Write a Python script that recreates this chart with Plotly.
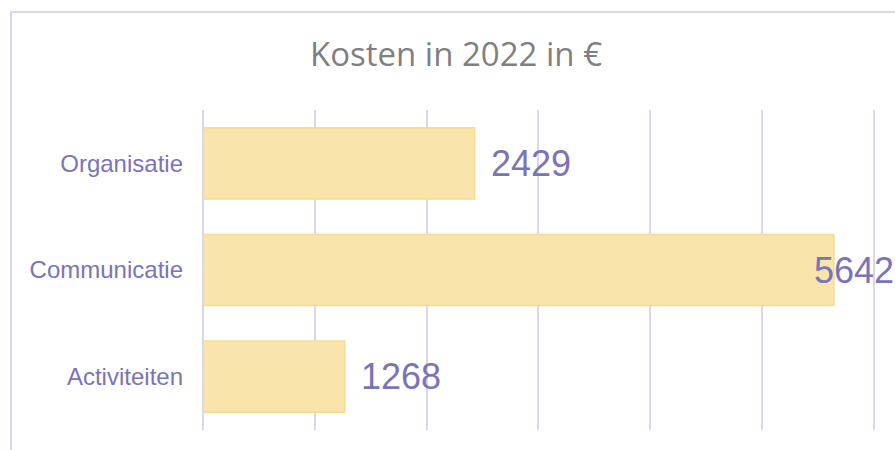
import plotly.graph_objects as go

categories = ["Organisatie", "Communicatie", "Activiteiten"]
values = [2429, 5642, 1268]
title_text = "Kosten in 2022 in €"
tick_step = 1000

LABEL_COLOR = "#7b73b8"
GRID_COLOR = "#d9d7ec"
BAR_FILL = "#f9e5ab"
BAR_LINE = "#f6dc8e"

W, H = 895, 450
ml, mr, mt, mb = 203, 0, 110, 20
x_max = 6188

fig = go.Figure()
fig.add_trace(go.Bar(
    y=categories, x=values, orientation="h",
    marker=dict(color=BAR_FILL, line=dict(color=BAR_LINE, width=1.5)),
    width=0.667, hoverinfo="x+y",
))

plot_w = W - ml - mr
px_per_unit = plot_w / x_max
annotations = []
for c, v in zip(categories, values):
    label_w = 0.556 * 36 * len(str(v))
    end_px = v * px_per_unit + 16 + label_w
    if end_px <= plot_w:
        annotations.append(dict(x=v, y=c, xref="x", yref="y", text=str(v),
                                xanchor="left", yanchor="middle", xshift=14,
                                showarrow=False,
                                font=dict(family="Liberation Sans, Arial", size=36, color=LABEL_COLOR)))
    else:
        annotations.append(dict(x=1, y=c, xref="paper", yref="y", text=str(v),
                                xanchor="right", yanchor="middle", xshift=1,
                                showarrow=False,
                                font=dict(family="Liberation Sans, Arial", size=36, color=LABEL_COLOR)))

fig.update_layout(
    width=W, height=H,
    margin=dict(l=ml, r=mr, t=mt, b=mb),
    paper_bgcolor="white", plot_bgcolor="white",
    showlegend=False,
    title=dict(text=title_text, x=456 / W, xanchor="center", xref="container",
               y=1 - 54 / H, yanchor="middle", yref="container",
               font=dict(family="Open Sans", size=33, color="#7f7f7f")),
    xaxis=dict(range=[0, x_max], dtick=tick_step, tick0=0, showgrid=True,
               gridcolor=GRID_COLOR, gridwidth=2, zeroline=True,
               zerolinecolor=GRID_COLOR, zerolinewidth=2,
               showticklabels=False, showline=False, fixedrange=True),
    yaxis=dict(autorange="reversed", showgrid=False, showline=False,
               ticks="", ticklabelstandoff=19,
               tickfont=dict(family="Liberation Sans, Arial", size=24, color=LABEL_COLOR)),
    bargap=0.333,
    annotations=annotations,
    shapes=[dict(type="rect", xref="paper", yref="paper",
                 x0=(11 - ml) / plot_w, x1=1.05,
                 y0=-0.2, y1=(H - mb - 12) / (H - mt - mb),
                 line=dict(color=GRID_COLOR, width=2), fillcolor="rgba(0,0,0,0)",
                 layer="below")],
)

fig.write_html("out.html")
